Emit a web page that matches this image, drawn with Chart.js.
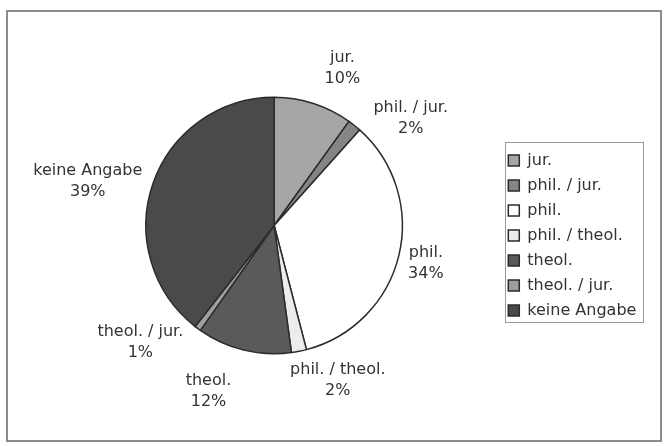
<!DOCTYPE html>
<html>
<head>
<meta charset="utf-8">
<script src="https://cdn.jsdelivr.net/npm/chart.js@4"></script>
<style>
  body { margin: 0; background: #fff; }
  #frame { position: absolute; left: 6px; top: 10px; width: 652px; height: 428px; border: 2px solid #8c8c8c; }
  canvas { display: block; }
</style>
</head>
<body>
<div id="frame"><canvas id="pieChart" width="652" height="428"></canvas></div>
<script>
// Data (shares in percent)
const labels = ["jur.", "phil. / jur.", "phil.", "phil. / theol.", "theol.", "theol. / jur.", "keine Angabe"];
const shares = [9.9, 1.7, 34.3, 1.9, 11.9, 0.8, 39.4];

// Slice fills, light to dark like the scan
const colors = ["#a6a6a6", "#858585", "#ffffff", "#ececec", "#5a5a5a", "#9e9e9e", "#4a4a4a"];

// small pixel nudges so the labels sit where the original put them
const labelShift = [[21, -9], [28, 14], [2, 1], [28, 3], [-28, 15], [-27, -8], [-6, 6]];

const FONT = "'DejaVu Sans', Verdana, sans-serif";

// Label + percent outside each slice
const sliceLabels = {
  id: "sliceLabels",
  afterDatasetsDraw(chart) {
    const ctx = chart.ctx;
    const arcs = chart.getDatasetMeta(0).data;
    const total = shares.reduce((a, b) => a + b, 0);
    ctx.save();
    ctx.font = "16px " + FONT;
    ctx.fillStyle = "#333";
    ctx.textAlign = "center";
    ctx.textBaseline = "middle";
    arcs.forEach((arc, i) => {
      const p = arc.getProps(["x", "y", "startAngle", "endAngle", "outerRadius"], true);
      const mid = (p.startAngle + p.endAngle) / 2;
      const dx = Math.cos(mid);
      const dy = Math.sin(mid);
      const pct = Math.round((shares[i] / total) * 100) + "%";
      const w = Math.max(ctx.measureText(labels[i]).width, ctx.measureText(pct).width);
      const cx = p.x + dx * (p.outerRadius + 8) + dx * w / 2 + labelShift[i][0];
      const cy = p.y + dy * (p.outerRadius + 8) + dy * 19 + labelShift[i][1];
      ctx.fillText(labels[i], cx, cy - 10.5);
      ctx.fillText(pct, cx, cy + 10.5);
    });
    ctx.restore();
  },
};

// Thin frame around the legend
const legendFrame = {
  id: "legendFrame",
  afterDraw(chart) {
    const boxes = chart.legend.legendHitBoxes;
    if (!boxes.length) return;
    const ctx = chart.ctx;
    const left = boxes[0].left - 3;
    const right = Math.max(...boxes.map((b) => b.left + b.width)) + 7;
    const top = boxes[0].top - 10.5;
    const last = boxes[boxes.length - 1];
    const bottom = last.top + last.height + 3;
    ctx.save();
    ctx.strokeStyle = "#9a9a9a";
    ctx.lineWidth = 1;
    ctx.strokeRect(Math.round(left) + 0.5, Math.round(top) + 0.5, Math.round(right - left), Math.round(bottom - top));
    ctx.restore();
  },
};

const ctx = document.getElementById("pieChart").getContext("2d");
const pieChart = new Chart(ctx, {
  type: "pie",
  data: {
    labels: labels,
    datasets: [
      {
        data: shares,
        backgroundColor: colors,
        borderColor: "#2b2b2b",
        borderWidth: 1.5,
      },
    ],
  },
  options: {
    responsive: false,
    animation: false,
    events: [],
    layout: {
      padding: { left: 41, right: 13.6, top: 84.5, bottom: 85.5 },
    },
    plugins: {
      tooltip: { enabled: false },
      legend: {
        position: "right",
        align: "center",
        title: { display: true, text: "", padding: 4, font: { size: 10 } },
        labels: {
          boxWidth: 11,
          boxHeight: 11,
          padding: 9,
          color: "#333",
          font: { family: FONT, size: 16 },
        },
      },
    },
  },
  plugins: [sliceLabels, legendFrame],
});
</script>
</body>
</html>
